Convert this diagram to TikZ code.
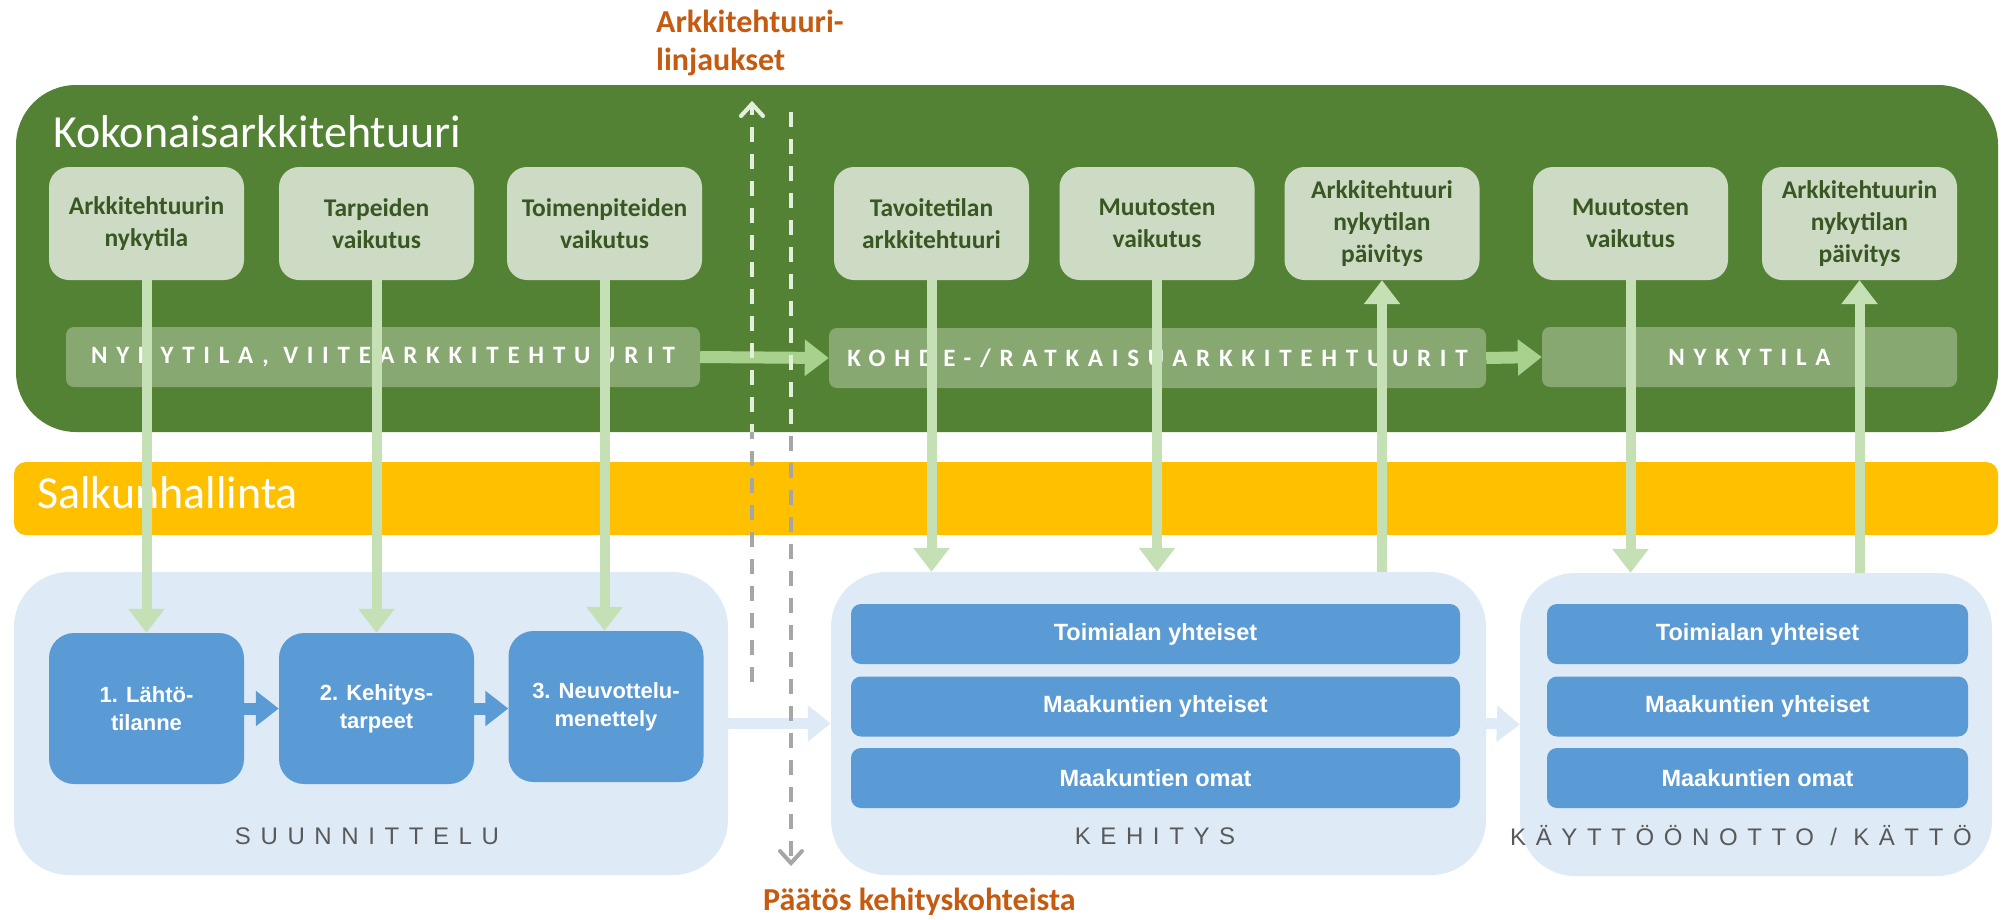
\documentclass[tikz,border=0pt]{standalone}
\usepackage{fontspec}
\setmainfont{Carlito}
\newfontfamily\arialfont{Liberation Sans}
\newfontfamily\spacedfont{Carlito}[LetterSpace=35]
\newfontfamily\spacedarial{Liberation Sans}[LetterSpace=40]
\usetikzlibrary{arrows.meta}
\definecolor{kagreen}{HTML}{548235}
\definecolor{kalight}{HTML}{CDDAC4}
\definecolor{katext}{HTML}{385723}
\definecolor{bandgreen}{HTML}{88A872}
\definecolor{linegreen}{HTML}{C5E0B4}
\definecolor{bandarrow}{HTML}{A9D18E}
\definecolor{salkku}{HTML}{FFC000}
\definecolor{phaseblue}{HTML}{DEEBF7}
\definecolor{boxblue}{HTML}{5B9BD5}
\definecolor{labelgray}{HTML}{595959}
\definecolor{dashgray}{HTML}{A6A6A6}
\definecolor{dashlight}{HTML}{E2EFDA}
\definecolor{orangetext}{HTML}{C55A11}

\begin{document}
\begin{tikzpicture}[x=1pt,y=-1pt,
  kabox/.style={fill=kalight, rounded corners=20pt, minimum width=195pt, minimum height=113pt,
    align=center, text=katext, inner sep=0pt, font=\bfseries\fontsize{25.5}{32}\selectfont},
  kaband/.style={fill=bandgreen, rounded corners=8pt, minimum height=60pt, inner sep=0pt,
    text=white, font=\spacedfont\bfseries\fontsize{25}{30}\selectfont},
  container/.style={fill=phaseblue, rounded corners=55pt, inner sep=0pt, minimum height=303pt},
  phasebox/.style={fill=boxblue, rounded corners=25pt, minimum width=195pt, minimum height=151pt,
    align=center, text=white, inner sep=0pt, font=\arialfont\bfseries\fontsize{22}{28}\selectfont},
  rowbar/.style={fill=boxblue, rounded corners=10pt, minimum height=60pt, text=white,
    inner sep=0pt, font=\arialfont\bfseries\fontsize{23.5}{28}\selectfont},
  phaselabel/.style={text=labelgray, inner sep=0pt, font=\spacedarial\fontsize{24}{29}\selectfont},
  kaarrow/.style={draw=linegreen, line width=10pt, -{Triangle[length=24pt,width=35pt]}},
  bandflow/.style={draw=bandarrow, line width=12pt, -{Triangle[length=24pt,width=35pt]}},
  stepflow/.style={draw=boxblue, line width=12pt, -{Triangle[length=23pt,width=34pt]}},
  phaseflow/.style={draw=phaseblue, line width=11pt, -{Triangle[length=23pt,width=35pt]}},
  dashline/.style={line width=4pt, dash pattern=on 15pt off 12pt, draw=dashgray},
  dashtip/.style={-{Straight Barb[length=12pt,width=22pt,line cap=round]}},
  notetext/.style={text=orangetext, inner sep=0pt, font=\bfseries\fontsize{32}{38}\selectfont}
]
  \useasboundingbox (0,0) rectangle (2001,919);

  % kokonaisarkkitehtuuri
  \node[fill=kagreen, rounded corners=60pt, minimum width=1982pt, minimum height=347pt, inner sep=0pt] (ka) at (1007,258.5) {};
  \node[anchor=west, text=white, inner sep=0pt, font=\fontsize{46}{50}\selectfont] (katitle) at (53,132) {Kokonaisarkkitehtuuri};

  \node[kabox] (nyky) at (146.5,223.5) {Arkkitehtuurin\\nykytila};
  \node[kabox] (tarve) at (376.5,223.5) {Tarpeiden\\vaikutus};
  \node[kabox] (toimen) at (604.5,223.5) {Toimenpiteiden\\vaikutus};
  \node[kabox] (tavoite) at (931.5,223.5) {Tavoitetilan\\arkkitehtuuri};
  \node[kabox] (muutos1) at (1157,223.5) {Muutosten\\vaikutus};
  \node[kabox] (paiv1) at (1382,223.5) {Arkkitehtuuri\\nykytilan\\päivitys};
  \node[kabox] (muutos2) at (1630.5,223.5) {Muutosten\\vaikutus};
  \node[kabox] (paiv2) at (1859.5,223.5) {Arkkitehtuurin\\nykytilan\\päivitys};

  \node[kaband, minimum width=634pt] (bandnyky) at (383,357) {NYKYTILA, VIITEARKKITEHTUURIT};
  \node[kaband, minimum width=657pt] (bandkohde) at (1157.5,358) {KOHDE-/RATKAISUARKKITEHTUURIT};
  \node[kaband, minimum width=415pt] (bandnyky2) at (1749.5,357) {NYKYTILA};
  \draw[bandflow] (bandnyky.east) -- (bandkohde.west);
  \draw[bandflow] (bandkohde.east) -- (bandnyky2.west);

  % salkunhallinta
  \node[fill=salkku, rounded corners=12pt, minimum width=1984pt, minimum height=73pt, inner sep=0pt] (salkku) at (1006,498.5) {};
  \node[anchor=west, text=white, inner sep=0pt, font=\fontsize{46}{50}\selectfont] (salkkutitle) at (37,493) {Salkunhallinta};

  % vaiheet
  \node[container, minimum width=714pt] (suun) at (371,723.5) {};
  \node[container, minimum width=655pt] (kehi) at (1158.5,723.5) {};
  \node[container, minimum width=472pt] (kayt) at (1756,724.5) {};
  \draw[phaseflow] (suun.east) -- (kehi.west);
  \draw[phaseflow] (kehi.east) -- (kayt.west);

  \node[phasebox] (lahto) at (146.5,708.5) {1. Lähtö-\\tilanne};
  \node[phasebox] (tarpeet) at (376.5,708.5) {2. Kehitys-\\tarpeet};
  \node[phasebox] (neuv) at (606,706.5) {3. Neuvottelu-\\menettely};
  \draw[stepflow] (lahto.east) -- (tarpeet.west);
  \draw[stepflow] (tarpeet.east) -- (tarpeet.east -| neuv.west);

  \node[rowbar, minimum width=609pt] (ktoim) at (1155.5,634) {Toimialan yhteiset};
  \node[rowbar, minimum width=609pt] (kmaak) at (1155.5,706.5) {Maakuntien yhteiset};
  \node[rowbar, minimum width=609pt] (komat) at (1155.5,778) {Maakuntien omat};
  \node[rowbar, minimum width=421pt] (otoim) at (1757.5,634) {Toimialan yhteiset};
  \node[rowbar, minimum width=421pt] (omaak) at (1757.5,706.5) {Maakuntien yhteiset};
  \node[rowbar, minimum width=421pt] (oomat) at (1757.5,778) {Maakuntien omat};

  \node[phaselabel] (suunlabel) at (367,836) {SUUNNITTELU};
  \node[phaselabel] (kehilabel) at (1155,836) {KEHITYS};
  \node[phaselabel, anchor=west] (kaytlabel) at (1510,836) {KÄYTTÖÖNOTTO / KÄTTÖ};

  % yhteydet
  \draw[kaarrow] (nyky.south) -- (lahto.north);
  \draw[kaarrow] (tarve.south) -- (tarpeet.north);
  \draw[kaarrow] (toimen.south) -- (toimen.south |- neuv.north);
  \draw[kaarrow] (tavoite.south) -- (tavoite.south |- kehi.north);
  \draw[kaarrow] (muutos1.south) -- (muutos1.south |- kehi.north);
  \draw[kaarrow] (paiv1.south |- kehi.north) -- (paiv1.south);
  \draw[kaarrow] (muutos2.south) -- (muutos2.south |- kayt.north);
  \draw[kaarrow] (paiv2.south |- kayt.north) -- (paiv2.south);

  % linjaukset ja paatos
  \coordinate (upbot) at (752,682);
  \coordinate (uptop) at (752,101);
  \coordinate (dntop) at (791,112);
  \coordinate (dnbot) at (791,866);
  \draw[dashline, dashtip] (upbot) -- (uptop);
  \draw[dashline, dashtip] (dntop) -- (dnbot);
  \begin{scope}
    \clip[rounded corners=60pt] (ka.south west) rectangle (ka.north east);
    \draw[dashline, dashtip, draw=dashlight] (upbot) -- (uptop);
    \draw[dashline, dashtip, draw=dashlight] (dntop) -- (dnbot);
  \end{scope}

  \node[notetext, anchor=west, align=left] (linjaus) at (656,43) {Arkkitehtuuri-\\linjaukset};
  \node[notetext, anchor=west] (paatos) at (763,902) {Päätös kehityskohteista};
\end{tikzpicture}
\end{document}
